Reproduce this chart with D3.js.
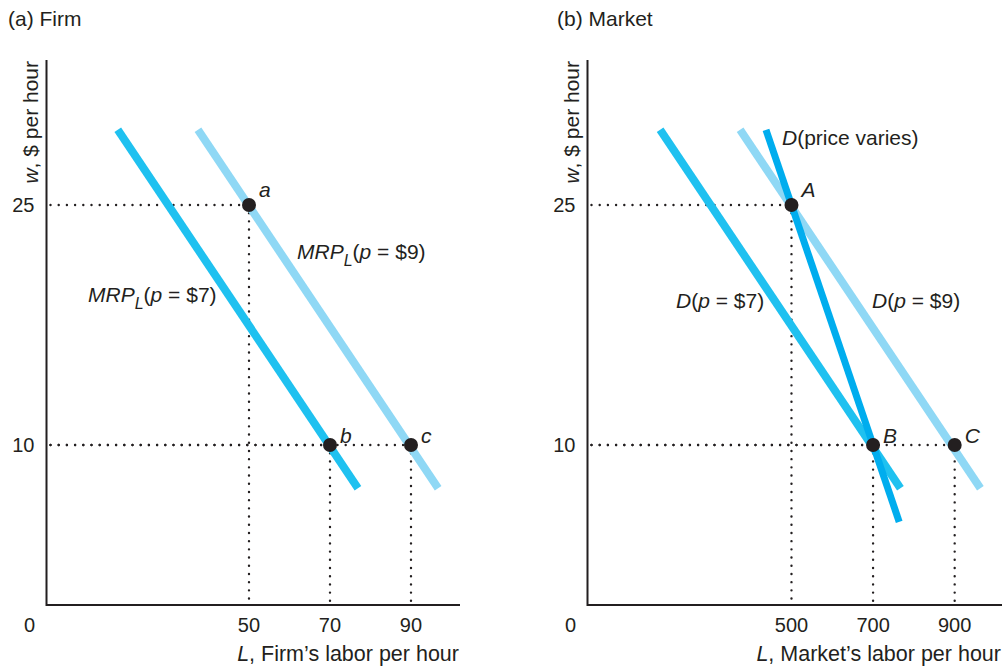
<!DOCTYPE html>
<html><head><meta charset="utf-8">
<script src="https://cdn.jsdelivr.net/npm/d3@7"></script>
<style>
body{margin:0;background:#fff;}
text{font-family:"Liberation Sans",Arial,sans-serif;fill:#231f20;}
</style></head>
<body><svg id="c" width="1004" height="668"></svg>
<script>
// ---- data ----
const wTicks = [10, 25];
const firmTicks = [50, 70, 90];
const marketTicks = [500, 700, 900];
// line endpoints [L, w]
const firmP7 = [[17.6, 29.7], [76.9, 7.3]];
const firmP9 = [[37.4, 29.7], [96.7, 7.3]];
const mktP7 = [[178, 29.7], [767, 7.3]];
const mktP9 = [[374, 29.7], [963, 7.3]];
const mktVaries = [[437.5, 29.7], [764, 5.2]];
const firmPoints = [{L:50,w:25,lab:"a"},{L:70,w:10,lab:"b"},{L:90,w:10,lab:"c"}];
const mktPoints = [{L:500,w:25,lab:"A"},{L:700,w:10,lab:"B"},{L:900,w:10,lab:"C"}];

const FS = 21;
const svg = d3.select("#c");
const y = d3.scaleLinear().domain([0, 34.06]).range([605, 60]);
const xF = d3.scaleLinear().domain([0, 102.1]).range([46.5, 460]);
const xM = d3.scaleLinear().domain([0, 1016]).range([587.5, 1002]);

const C7 = "#1fc1f0", C9 = "#8fd8f5", CV = "#00adee";

function panel(x, title, titleX, ticks, xlab, lines, pts){
  const g = svg.append("g");
  const x0 = x.range()[0];
  g.append("text").attr("x", titleX).attr("y", 26).attr("font-size", FS).text(title);
  // dotted guides
  pts.forEach(p=>{
    g.append("line").attr("x1", x0+4).attr("x2", x(p.L)).attr("y1", y(p.w)).attr("y2", y(p.w))
      .attr("stroke","#231f20").attr("stroke-width",2.4).attr("stroke-linecap","round").attr("stroke-dasharray","0,8.2");
    g.append("line").attr("x1", x(p.L)).attr("x2", x(p.L)).attr("y1", y(p.w)).attr("y2", y(0)-2)
      .attr("stroke","#231f20").attr("stroke-width",2.4).attr("stroke-linecap","round").attr("stroke-dasharray","0,8.2");
  });
  // lines
  lines.forEach(l=>{
    g.append("line").attr("x1", x(l.d[0][0])).attr("y1", y(l.d[0][1]))
      .attr("x2", x(l.d[1][0])).attr("y2", y(l.d[1][1]))
      .attr("stroke", l.c).attr("stroke-width", l.w);
  });
  // axes
  g.append("path").attr("d", `M${x0},${y.range()[1]}V${y(0)}H${x.range()[1]}`)
    .attr("fill","none").attr("stroke","#231f20").attr("stroke-width",2);
  // tick labels
  g.append("text").attr("x", x0 - 17).attr("y", 632).attr("font-size",20).attr("text-anchor","middle").text("0");
  ticks.forEach(t=>{
    g.append("text").attr("x", x(t)).attr("y", 632).attr("font-size",20).attr("text-anchor","middle").text(t);
  });
  wTicks.forEach(t=>{
    g.append("text").attr("x", x0 - 12).attr("y", y(t)+7).attr("font-size",20).attr("text-anchor","end").text(t);
  });
  // axis titles
  const xt = g.append("text").attr("x", x.range()[1]-1).attr("y", 661).attr("font-size",21.5).attr("text-anchor","end");
  xt.append("tspan").attr("font-style","italic").text("L");
  xt.append("tspan").text(xlab);
  const yt = g.append("text").attr("transform", `translate(${x0-9},61) rotate(-90)`).attr("font-size",21).attr("text-anchor","end");
  yt.append("tspan").attr("font-style","italic").text("w");
  yt.append("tspan").text(", $ per hour");
  // points
  pts.forEach(p=>{
    g.append("circle").attr("cx", x(p.L)).attr("cy", y(p.w)).attr("r", 7).attr("fill","#231f20");
  });
  return g;
}

const gF = panel(xF, "(a) Firm", 8, firmTicks, ", Firm\u2019s labor per hour",
  [{d:firmP7,c:C7,w:8},{d:firmP9,c:C9,w:8}], firmPoints);
const gM = panel(xM, "(b) Market", 557, marketTicks, ", Market\u2019s labor per hour",
  [{d:mktP7,c:C7,w:8},{d:mktP9,c:C9,w:8},{d:mktVaries,c:CV,w:7}], mktPoints);

// point labels
function ptLabels(g, x, pts, dx){
  pts.forEach(p=>{
    g.append("text").attr("x", x(p.L)+dx).attr("y", y(p.w)+ (p.w===25 ? -8 : -2))
      .attr("font-size",FS).attr("font-style","italic").text(p.lab);
  });
}
ptLabels(gF, xF, firmPoints, 10);
ptLabels(gM, xM, mktPoints, 10);

function curveLabel(g, xpos, ypos, p, prefix){
  const t = g.append("text").attr("x", xpos).attr("y", ypos).attr("font-size",FS);
  if(prefix==="MRP"){
    t.append("tspan").attr("font-style","italic").text("MRP");
    t.append("tspan").attr("font-style","italic").attr("font-size",16).attr("dy",7).text("L");
    t.append("tspan").attr("dy",-7).text("(");
  } else {
    t.append("tspan").attr("font-style","italic").text("D");
    t.append("tspan").text("(");
  }
  t.append("tspan").attr("font-style","italic").text("p");
  t.append("tspan").text(" = $" + p + ")");
}
curveLabel(gF, 297, 259, 9, "MRP");
curveLabel(gF, 88, 302, 7, "MRP");
curveLabel(gM, 676, 308, 7, "D");
curveLabel(gM, 872, 308, 9, "D");
const tv = gM.append("text").attr("x", 782).attr("y", 145).attr("font-size",FS);
tv.append("tspan").attr("font-style","italic").text("D");
tv.append("tspan").text("(price varies)");
</script></body></html>
